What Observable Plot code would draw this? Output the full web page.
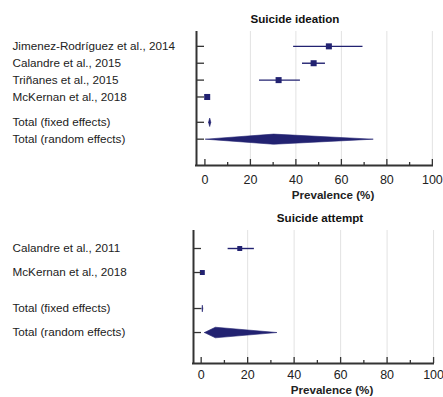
<!DOCTYPE html>
<html>
<head>
<meta charset="utf-8">
<script src="https://cdn.jsdelivr.net/npm/d3@7"></script>
<script src="https://cdn.jsdelivr.net/npm/@observablehq/plot@0.6"></script>
<style>
  html, body { margin: 0; padding: 0; background: #fff; }
  #chart { width: 443px; height: 397px; overflow: hidden; }
  #chart svg { display: block; }
</style>
</head>
<body>
<div id="chart"></div>
<script>
// ---- Data: Suicide ideation ----
const ideationTitle = "Suicide ideation";
const ideationStudies = ["Jimenez-Rodríguez et al., 2014", "Calandre et al., 2015", "Triñanes et al., 2015", "McKernan et al., 2018"];
const ideationEst  = [54.5, 47.8, 32.4, 1.0];
const ideationLow  = [39.0, 42.9, 24.0, 0.5];
const ideationHigh = [69.5, 53.0, 42.0, 1.6];
const ideationTotals = ["Total (fixed effects)", "Total (random effects)"];
const ideationTotEst  = [2.1, 30.2];
const ideationTotLow  = [1.6, 0.3];
const ideationTotHigh = [2.6, 74.0];

// ---- Data: Suicide attempt ----
const attemptTitle = "Suicide attempt";
const attemptStudies = ["Calandre et al., 2011", "McKernan et al., 2018"];
const attemptEst  = [16.6, 0.5];
const attemptLow  = [11.6, 0.2];
const attemptHigh = [22.9, 0.9];
const attemptTotals = ["Total (fixed effects)", "Total (random effects)"];
const attemptTotEst  = [0.5, 6.1];
const attemptTotLow  = [0.3, 1.4];
const attemptTotHigh = [0.7, 32.6];

const xTicks = [0, 20, 40, 60, 80, 100];
const xMinorTicks = [10, 30, 50, 70, 90];
const xLabel = "Prevalence (%)";

const NAVY = "#222271";
const AXIS = "#333";
const FONT = "'Liberation Sans', Arial, Helvetica, sans-serif";

function panel(cfg) {
  const {title, studies, est, low, high, totals, totEst, totLow, totHigh,
         height, marginTop, marginBottom, marginLeft, marginRight,
         xDomain, yTop, yBottom, dmHalf, dmFixedHalf, dotR, titleDx, tickDy, labelDy} = cfg;
  const n = studies.length;
  const rows = studies.map((s, i) => ({label: s, pos: i, est: est[i], low: low[i], high: high[i]}));
  const trows = totals.map((s, j) => ({label: s, pos: n + 0.5 + j, est: totEst[j], low: totLow[j], high: totHigh[j], half: j === 0 ? dmFixedHalf : dmHalf}));
  const allRows = rows.concat(trows);
  const diamonds = [];
  trows.forEach((r, k) => {
    diamonds.push({k, x: r.low, y: r.pos});
    diamonds.push({k, x: r.est, y: r.pos - r.half});
    diamonds.push({k, x: r.high, y: r.pos});
    diamonds.push({k, x: r.est, y: r.pos + r.half});
    diamonds.push({k, x: r.low, y: r.pos});
  });
  const frameH = height - marginTop - marginBottom;
  const frameW = 443 - marginLeft - marginRight;
  return Plot.plot({
    width: 443,
    height,
    marginTop, marginBottom, marginLeft, marginRight,
    style: {fontFamily: FONT, background: "#fff", overflow: "visible"},
    x: {domain: xDomain, axis: null},
    y: {domain: [yTop, yBottom], reverse: true, axis: null},
    marks: [
      Plot.ruleX(xTicks.filter(d => d > 0), {stroke: "#e2e2e2", strokeWidth: 1}),
      Plot.ruleY(rows, {y: "pos", x1: "low", x2: "high", stroke: NAVY, strokeWidth: 1.4}),
      Plot.dot(rows, {x: "est", y: "pos", symbol: "square", r: dotR, fill: NAVY, stroke: "none"}),
      Plot.line(diamonds, {x: "x", y: "y", z: "k", fill: NAVY, stroke: NAVY, strokeWidth: 0.6, curve: "linear"}),
      Plot.ruleX([xDomain[0]], {stroke: AXIS, strokeWidth: 2}),
      Plot.ruleY([yBottom], {stroke: AXIS, strokeWidth: 2, insetLeft: -1}),
      Plot.ruleY(allRows, {y: "pos", stroke: AXIS, strokeWidth: 1.3, insetRight: frameW - 8}),
      Plot.ruleX(xTicks, {stroke: AXIS, strokeWidth: 1.3, insetTop: frameH - 6}),
      Plot.ruleX(xMinorTicks, {stroke: AXIS, strokeWidth: 1.3, insetTop: frameH - 3}),
      Plot.text(xTicks, {x: d => d, frameAnchor: "bottom", dy: tickDy, lineAnchor: "middle", text: d => String(d), fontSize: 12.5, fill: "#222"}),
      Plot.text([xLabel], {frameAnchor: "bottom", dy: labelDy, dx: 18, lineAnchor: "middle", text: d => d, fontSize: 11.6, fontWeight: "bold", fill: "#222"}),
      Plot.text(allRows, {y: "pos", frameAnchor: "left", dx: 12 - marginLeft, textAnchor: "start", text: "label", fontSize: 11.7, fill: "#222"}),
      Plot.text([title], {frameAnchor: "top", dy: -12, dx: titleDx, lineAnchor: "middle", text: d => d, fontSize: 11.6, fontWeight: "bold", fill: "#111"})
    ]
  });
}

const ideationPlot = panel({
  title: ideationTitle, studies: ideationStudies, est: ideationEst, low: ideationLow, high: ideationHigh,
  totals: ideationTotals, totEst: ideationTotEst, totLow: ideationTotLow, totHigh: ideationTotHigh,
  height: 200, marginTop: 31, marginBottom: 35, marginLeft: 196, marginRight: 10,
  xDomain: [-3.7, 100.5], yTop: -0.88, yBottom: 7.06, dmHalf: 0.3, dmFixedHalf: 0.25, dotR: 3.4, titleDx: -20, tickDy: 14, labelDy: 29.5
});
const attemptPlot = panel({
  title: attemptTitle, studies: attemptStudies, est: attemptEst, low: attemptLow, high: attemptHigh,
  totals: attemptTotals, totEst: attemptTotEst, totLow: attemptTotLow, totHigh: attemptTotHigh,
  height: 197, marginTop: 30, marginBottom: 34, marginLeft: 193, marginRight: 9,
  xDomain: [-3.3, 100.4], yTop: -0.75, yBottom: 4.79, dmHalf: 0.22, dmFixedHalf: 0.14, dotR: 2.8, titleDx: 6, tickDy: 11.5, labelDy: 27
});
document.getElementById("chart").append(ideationPlot, attemptPlot);
</script>
</body>
</html>
